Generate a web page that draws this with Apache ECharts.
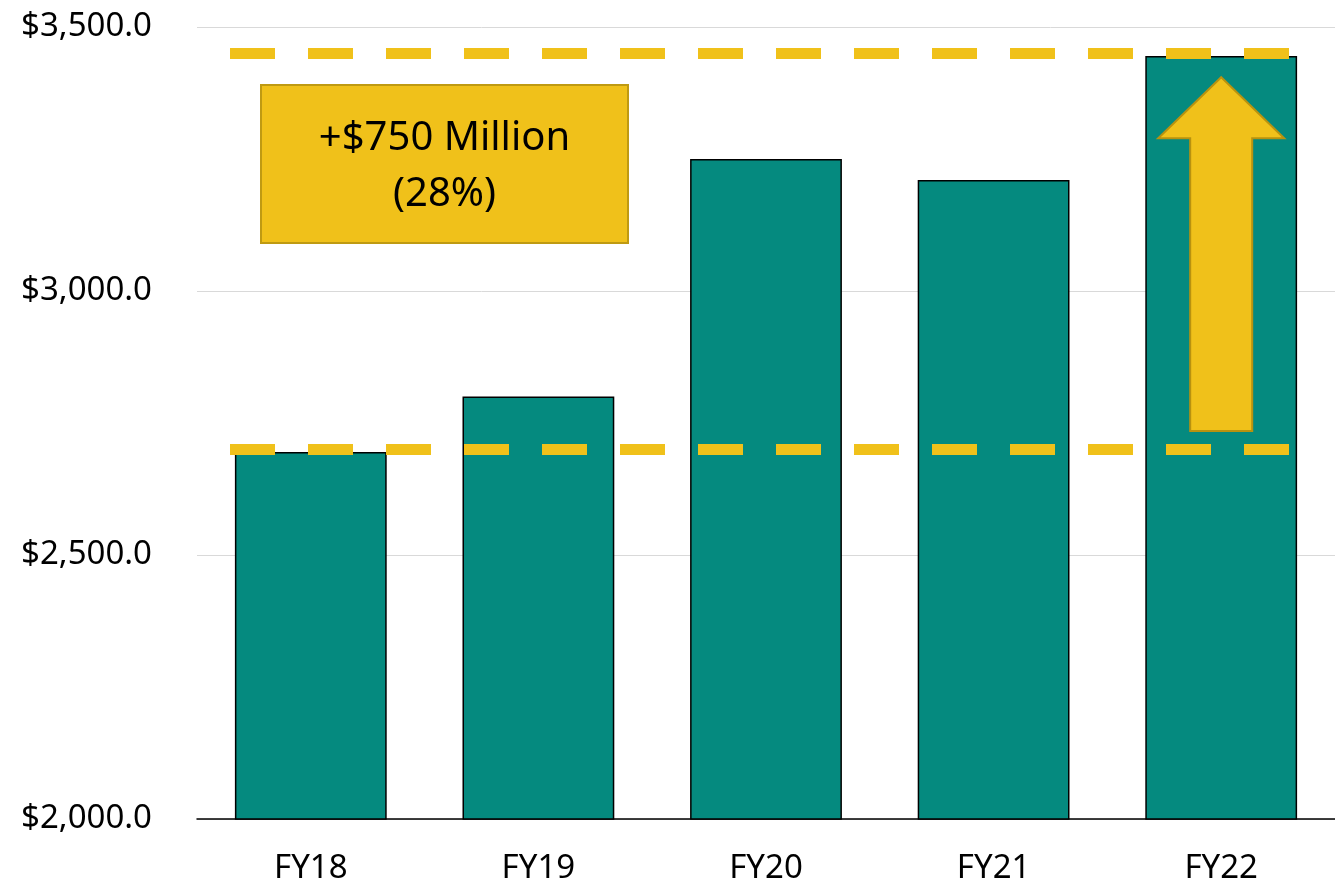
<!DOCTYPE html>
<html>
<head>
<meta charset="utf-8">
<script src="https://cdn.jsdelivr.net/npm/echarts@6/dist/echarts.min.js"></script>
<style>
  html, body { margin: 0; padding: 0; background: #fff; }
  #main { width: 1335px; height: 882px; }
</style>
</head>
<body>
<div id="main"></div>
<script>
  var categories = ['FY18', 'FY19', 'FY20', 'FY21', 'FY22'];
  var revenue = [2695, 2800, 3250, 3210, 3445];
  var refLevels = [2700, 3450];
  var arrowRange = [2735, 3405];
  var calloutLines = ['+$750 Million', '(28%)'];

  var FONT = '"Noto Sans", "Open Sans", sans-serif';
  var YELLOW = '#F0C11A';
  var TEAL = '#058A7F';

  var chart = echarts.init(document.getElementById('main'));

  // dashed reference lines live on a hidden value x-axis so they can stop short of the edges
  var refSeries = refLevels.map(function (v) {
    return {
      type: 'line',
      xAxisIndex: 1,
      data: [[0.145, v], [4.81, v]],
      symbol: 'none',
      silent: true,
      z: 5,
      lineStyle: { color: YELLOW, width: 11, type: [45, 33] }
    };
  });

  // up arrow over the last bar
  var arrowSeries = {
    type: 'custom',
    xAxisIndex: 0,
    z: 10,
    silent: true,
    data: [[categories.length - 1, arrowRange[0], arrowRange[1]]],
    renderItem: function (params, api) {
      var t = api.coord([api.value(0), api.value(2)]);
      var b = api.coord([api.value(0), api.value(1)]);
      var cx = t[0], shaft = 31, head = 63, headH = 61;
      return {
        type: 'polygon',
        shape: {
          points: [
            [cx, t[1]],
            [cx + head, t[1] + headH],
            [cx + shaft, t[1] + headH],
            [cx + shaft, b[1]],
            [cx - shaft, b[1]],
            [cx - shaft, t[1] + headH],
            [cx - head, t[1] + headH]
          ]
        },
        style: { fill: YELLOW, stroke: '#B8920F', lineWidth: 2 }
      };
    }
  };

  // callout box
  var box = { x: 261, y: 85, w: 367, h: 158 };
  var calloutGraphics = [
    {
      type: 'rect',
      z: 10,
      shape: { x: box.x, y: box.y, width: box.w, height: box.h },
      style: { fill: YELLOW, stroke: '#BF9A12', lineWidth: 2 }
    }
  ];
  calloutLines.forEach(function (line, i) {
    calloutGraphics.push({
      type: 'text',
      z: 11,
      x: box.x + box.w / 2,
      y: box.y + box.h / 2 + 3 + (i - 0.5) * 56,
      style: {
        text: line,
        align: 'center',
        verticalAlign: 'middle',
        fontSize: 40,
        fontFamily: FONT,
        fill: '#000'
      }
    });
  });

  chart.setOption({
    animation: false,
    grid: { left: 197, right: 0, top: 27, bottom: 63, containLabel: false, outerBoundsMode: 'none' },
    xAxis: [
      {
        type: 'category',
        data: categories,
        axisLine: { lineStyle: { color: '#000', width: 1.5 } },
        axisTick: { show: false },
        axisLabel: { color: '#000', fontSize: 33, fontFamily: FONT, margin: 33 }
      },
      {
        type: 'value',
        min: 0,
        max: 5,
        show: false
      }
    ],
    yAxis: {
      type: 'value',
      min: 2000,
      max: 3500,
      interval: 500,
      axisLine: { show: false },
      axisTick: { show: false },
      splitLine: { lineStyle: { color: '#d9d9d9', width: 1 } },
      axisLabel: {
        color: '#000',
        fontSize: 33,
        fontFamily: FONT,
        margin: 45,
        formatter: function (v) {
          return '$' + v.toLocaleString('en-US', { minimumFractionDigits: 1, maximumFractionDigits: 1 });
        }
      }
    },
    graphic: calloutGraphics,
    series: [
      {
        type: 'bar',
        data: revenue,
        barCategoryGap: '33.3%',
        itemStyle: { color: TEAL, borderColor: '#000', borderWidth: 1.5 }
      }
    ].concat(refSeries, [arrowSeries])
  });
</script>
</body>
</html>
